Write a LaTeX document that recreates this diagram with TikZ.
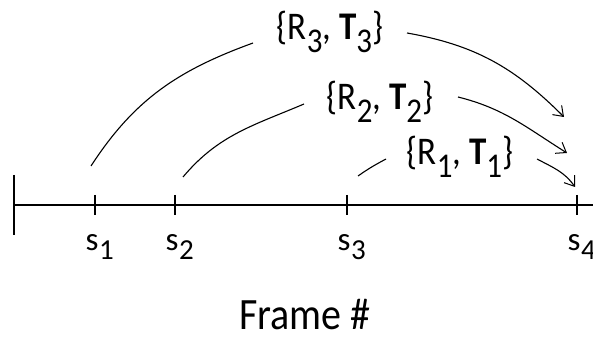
\documentclass[tikz,border=0pt]{standalone}
\usepackage{fontspec}
\setmainfont{Carlito}
\usetikzlibrary{arrows.meta}
\newcommand\bigsub[1]{\raisebox{-11pt}{\fontsize{31}{31}\selectfont #1}}
\newcommand\smallsub[1]{\kern0.5pt\raisebox{-9pt}{\fontsize{29}{29}\selectfont #1}}
\newcommand\vstretch[1]{\scalebox{1}[1.12]{#1}}
\begin{document}
\begin{tikzpicture}[x=1pt,y=1pt,
  arc/.style={line width=1.1pt},
  arcarrow/.style={arc,-{Straight Barb[length=9pt,width=13pt,line width=1pt]}},
  axisline/.style={line width=1.2pt},
  lbl/.style={inner sep=0pt,anchor=base,font=\fontsize{35}{35}\selectfont},
  slbl/.style={inner sep=0pt,anchor=base west,font=\fontsize{33}{33}\selectfont},
  ]
\useasboundingbox (0,0) rectangle (593,337);
% axis
\coordinate (a0) at (14,132);
\coordinate (aend) at (600,132);
\coordinate (t1) at (95,132);
\coordinate (t2) at (175,132);
\coordinate (t3) at (347,132);
\coordinate (t4) at (577,132);
\draw[axisline] (a0) -- (aend);
\draw[axisline] ([yshift=30pt]a0) -- ([yshift=-30pt]a0);
\foreach \t in {t1,t2,t3,t4}{
  \draw[axisline] ([yshift=10pt]\t) -- ([yshift=-10pt]\t);
}
% tick labels
\node[slbl] (s1) at ([xshift=-9.5pt,yshift=-46pt]t1) {s\smallsub{1}};
\node[slbl] (s2) at ([xshift=-9.5pt,yshift=-46pt]t2) {s\smallsub{2}};
\node[slbl] (s3) at ([xshift=-9.5pt,yshift=-46pt]t3) {s\smallsub{3}};
\node[slbl] (s4) at ([xshift=-9.5pt,yshift=-46pt]t4) {s\smallsub{4}};
% axis title
\node[inner sep=0pt,anchor=base west,text depth=0pt,font=\fontsize{40}{40}\selectfont] (title) at (239,8) {\vstretch{Frame \#}};
% labels
\node[lbl] (l3) at (330,297) {\vstretch{\{R\bigsub{3}, \textbf{T}\bigsub{3}\}}};
\node[lbl] (l2) at (380,227) {\vstretch{\{R\bigsub{2}, \textbf{T}\bigsub{2}\}}};
\node[lbl] (l1) at (460,172) {\vstretch{\{R\bigsub{1}, \textbf{T}\bigsub{1}\}}};
% arc 3
\coordinate (a3s) at (91,171);
\coordinate (a3m) at (253,294);
\coordinate (a3n) at (407,304);
\coordinate (a3e) at (564,220);
\draw[arc] (a3s) to[out=57,in=200] (a3m);
\draw[arcarrow] (a3n) to[out=-10,in=135] (a3e);
% arc 2
\coordinate (a2s) at (183,160);
\coordinate (a2m) at (304,233);
\coordinate (a2n) at (458,240);
\coordinate (a2e) at (567,184);
\draw[arc] (a2s) to[out=50,in=203] (a2m);
\draw[arcarrow] (a2n) to[out=-14,in=148] (a2e);
% arc 1
\coordinate (a1s) at (358,161);
\coordinate (a1m) at (386,178);
\coordinate (a1n) at (537,178);
\coordinate (a1e) at (575,150);
\draw[arc] (a1s) to[out=35,in=208] (a1m);
\draw[arcarrow] (a1n) to[out=-28,in=125] (a1e);
\end{tikzpicture}
\end{document}
